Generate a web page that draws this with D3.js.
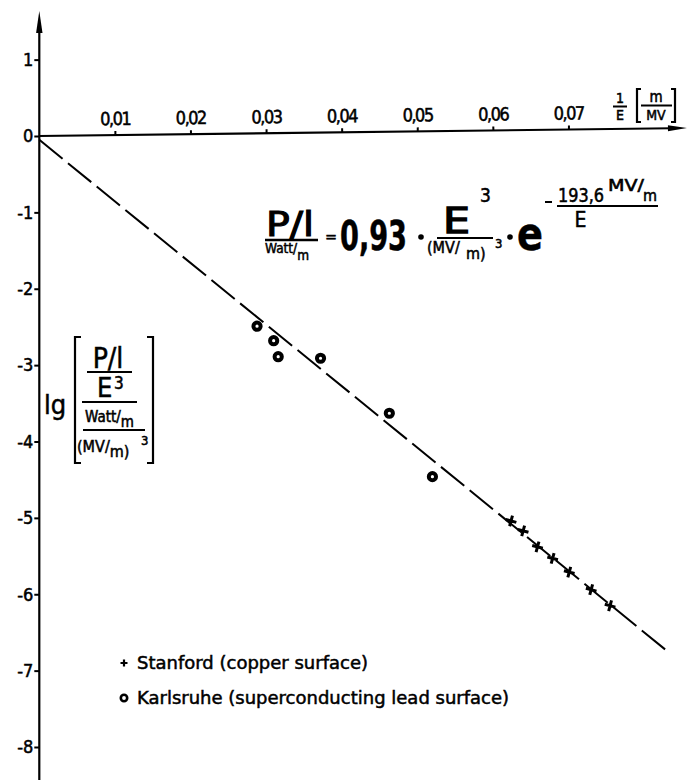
<!DOCTYPE html>
<meta charset="utf-8">
<style>
  body { margin: 0; background: #fff; }
  svg text {
    font-family: "DejaVu Sans Condensed", "Liberation Sans Narrow", Roboto, sans-serif;
    fill: #000;
    stroke: #000;
    stroke-width: 0.5px;
  }
  .axis line { stroke: #000; stroke-width: 2px; }
  .axis .domain { display: none; }
  .axis text { font-size: 18px; }
  .axis-x text { font-size: 18px; letter-spacing: -1.5px; }
  .spine { stroke: #000; stroke-width: 2.2px; fill: none; }
  .fit { fill: none; stroke: #000; stroke-width: 2px; stroke-dasharray: 30, 7; }
  .rule { stroke: #000; stroke-width: 2px; }
  .ring { fill: #fff; stroke: #000; stroke-width: 4px; }
  .plus { stroke: #000; stroke-width: 3px; }
  .legend text { font-family: "DejaVu Sans", sans-serif; font-size: 18px; }
</style>
<svg width="690" height="780"></svg>
<script src="https://d3js.org/d3.v7.min.js"></script>
<script>

  // values
  var xTicks = [0.01, 0.02, 0.03, 0.04, 0.05, 0.06, 0.07];
  var xTickLabels = ["0,01", "0,02", "0,03", "0,04", "0,05", "0,06", "0,07"];
  var yTicks = [1, 0, -1, -2, -3, -4, -5, -6, -7, -8];
  var yTickLabels = ["1", "0", "-1", "-2", "-3", "-4", "-5", "-6", "-7", "-8"];

  var stanfordX = [0.0624, 0.0640, 0.0659, 0.0679, 0.0701, 0.0730, 0.0755];
  var stanfordY = [-5.04, -5.17, -5.38, -5.53, -5.71, -5.94, -6.15];

  var karlsruheX = [0.0288, 0.0310, 0.0316, 0.0372, 0.0463, 0.0520];
  var karlsruheY = [-2.49, -2.68, -2.89, -2.91, -3.63, -4.46];

  var fitX = [0, 0.0830];
  var fitY = [-0.05, -6.74];

  var legendLabels = ["Stanford (copper surface)", "Karlsruhe (superconducting lead surface)"];

  var svg = d3.select("svg");

  var x = d3.scaleLinear().domain([0, 0.08]).range([39.3, 644.1]);
  var y = d3.scaleLinear().domain([0, -8]).range([136, 747]);

  // y axis
  svg.append("line").attr("class", "spine")
      .attr("x1", x(0)).attr("x2", x(0)).attr("y1", 28).attr("y2", 780);
  svg.append("path")
      .attr("d", "M" + x(0) + ",11 L" + (x(0) - 3.2) + ",33 L" + (x(0) + 3.2) + ",33 Z");

  svg.append("g")
      .attr("class", "axis axis-y")
      .attr("transform", "translate(" + x(0) + ",0)")
      .call(d3.axisLeft(y).tickValues(yTicks)
          .tickFormat(function(d, i) { return yTickLabels[i]; })
          .tickSize(5).tickPadding(1));

  // x axis (the scan is a little tilted)
  var gx = svg.append("g")
      .attr("transform", "translate(" + x(0) + "," + y(0) + ") rotate(-0.7) translate(" + (-x(0)) + ",0)");

  gx.append("line").attr("class", "spine")
      .attr("x1", x(0)).attr("x2", 672).attr("y1", 0).attr("y2", 0);
  gx.append("path").attr("d", "M687,0 L668,-3 L668,3 Z");

  gx.append("g")
      .attr("class", "axis axis-x")
      .call(d3.axisTop(x).tickValues(xTicks)
          .tickFormat(function(d, i) { return xTickLabels[i]; })
          .tickSize(4).tickPadding(6));

  // x axis unit 1/E [m/MV]
  var ux = svg.append("g");
  ux.append("text").attr("x", 620).attr("y", 103).attr("text-anchor", "middle").style("font-size", "14px").text("1");
  ux.append("line").attr("class", "rule").attr("x1", 613).attr("x2", 627).attr("y1", 106.5).attr("y2", 106.5);
  ux.append("text").attr("x", 620).attr("y", 120).attr("text-anchor", "middle").style("font-size", "14px").text("E");
  ux.append("path").attr("class", "spine").attr("d", "M641,89 L637,89 L637,122 L641,122");
  ux.append("path").attr("class", "spine").attr("d", "M671,89 L675,89 L675,122 L671,122");
  ux.append("text").attr("x", 656).attr("y", 102).attr("text-anchor", "middle").style("font-size", "15px").text("m");
  ux.append("line").attr("class", "rule").attr("x1", 641).attr("x2", 672).attr("y1", 105.5).attr("y2", 105.5);
  ux.append("text").attr("x", 656).attr("y", 120).attr("text-anchor", "middle").style("font-size", "14px").text("MV");

  // fitted line
  svg.append("path")
      .datum(d3.range(fitX.length))
      .attr("class", "fit")
      .attr("d", d3.line()
          .x(function(i) { return x(fitX[i]); })
          .y(function(i) { return y(fitY[i]); }));

  // Karlsruhe points
  svg.selectAll(".k")
      .data(d3.range(karlsruheX.length))
      .enter().append("circle")
      .attr("class", "ring")
      .attr("cx", function(i) { return x(karlsruheX[i]); })
      .attr("cy", function(i) { return y(karlsruheY[i]); })
      .attr("r", 3.6);

  // Stanford points
  var plus = "M-5.5,0 L5.5,0 M0,-5.5 L0,5.5";
  svg.selectAll(".s")
      .data(d3.range(stanfordX.length))
      .enter().append("path")
      .attr("class", "plus")
      .attr("d", plus)
      .attr("transform", function(i) {
        return "translate(" + x(stanfordX[i]) + "," + y(stanfordY[i]) + ") rotate(15)";
      });

  // formula
  var f = svg.append("g");
  f.append("text").attr("x", 266).attr("y", 236)
      .attr("textLength", 48).attr("lengthAdjust", "spacingAndGlyphs")
      .style("font-size", "33px").style("stroke-width", "1px").text("P/l");
  f.append("line").attr("class", "rule").style("stroke-width", "2.5px")
      .attr("x1", 265).attr("x2", 318).attr("y1", 240).attr("y2", 240);
  f.append("text").attr("x", 265).attr("y", 253).style("font-size", "13.5px")
      .text("Watt/").append("tspan").attr("dy", 7).text("m");
  f.append("text").attr("x", 331).attr("y", 242).attr("text-anchor", "middle")
      .style("font-size", "16px").text("=");
  f.append("text").attr("x", 340).attr("y", 250)
      .attr("textLength", 67).attr("lengthAdjust", "spacingAndGlyphs")
      .style("font-size", "41px").style("font-weight", "bold").text("0,93");
  f.append("circle").attr("cx", 421).attr("cy", 237).attr("r", 2.8);
  f.append("text").attr("x", 443).attr("y", 233)
      .attr("textLength", 27).attr("lengthAdjust", "spacingAndGlyphs")
      .style("font-size", "35px").style("stroke-width", "1.3px").text("E");
  f.append("text").attr("x", 480).attr("y", 202).style("font-size", "19px").text("3");
  f.append("line").attr("class", "rule")
      .attr("x1", 437).attr("x2", 493).attr("y1", 238).attr("y2", 238);
  f.append("text").attr("x", 427).attr("y", 253).style("font-size", "16px").text("(MV/");
  f.append("text").attr("x", 466).attr("y", 259).style("font-size", "16px").text("m)");
  f.append("text").attr("x", 495).attr("y", 248).style("font-size", "13px").text("3");
  f.append("circle").attr("cx", 510).attr("cy", 237).attr("r", 2.8);
  f.append("text").attr("x", 517).attr("y", 250)
      .attr("textLength", 26).attr("lengthAdjust", "spacingAndGlyphs")
      .style("font-size", "46px").style("font-weight", "bold").text("e");
  f.append("line").attr("class", "rule")
      .attr("x1", 545).attr("x2", 552).attr("y1", 202).attr("y2", 202);
  f.append("text").attr("x", 558).attr("y", 202)
      .attr("textLength", 46).attr("lengthAdjust", "spacingAndGlyphs")
      .style("font-size", "19px").text("193,6");
  f.append("text").attr("x", 608).attr("y", 191)
      .attr("textLength", 36).attr("lengthAdjust", "spacingAndGlyphs")
      .style("font-size", "15px").text("MV/");
  f.append("text").attr("x", 643).attr("y", 201).style("font-size", "16px").text("m");
  f.append("line").attr("class", "rule")
      .attr("x1", 557).attr("x2", 658).attr("y1", 206).attr("y2", 206);
  f.append("text").attr("x", 580.5).attr("y", 227).attr("text-anchor", "middle")
      .style("font-size", "21px").text("E");

  // y axis quantity
  var q = svg.append("g");
  q.append("text").attr("x", 44).attr("y", 414).style("font-size", "27px").text("lg");
  q.append("path").attr("class", "spine").attr("d", "M81,337 L75,337 L75,463 L81,463");
  q.append("path").attr("class", "spine").attr("d", "M147,337 L153,337 L153,463 L147,463");
  q.append("text").attr("x", 108).attr("y", 368).attr("text-anchor", "middle")
      .style("font-size", "28px").text("P/l");
  q.append("line").attr("class", "rule").attr("x1", 87).attr("x2", 132).attr("y1", 372).attr("y2", 372);
  q.append("text").attr("x", 97).attr("y", 397).style("font-size", "27px").text("E");
  q.append("text").attr("x", 114).attr("y", 389).style("font-size", "17px").text("3");
  q.append("line").attr("class", "rule").attr("x1", 82).attr("x2", 137).attr("y1", 402).attr("y2", 402);
  q.append("text").attr("x", 85).attr("y", 422).style("font-size", "15px")
      .text("Watt/").append("tspan").attr("dy", 5).text("m");
  q.append("line").attr("class", "rule").attr("x1", 83).attr("x2", 145).attr("y1", 430).attr("y2", 430);
  q.append("text").attr("x", 77).attr("y", 452).style("font-size", "16px")
      .text("(MV/").append("tspan").attr("dy", 5).text("m)");
  q.append("text").attr("x", 141).attr("y", 445).style("font-size", "13px").text("3");

  // legend
  var legendY = [663, 698];
  var lg = svg.append("g").attr("class", "legend");
  lg.append("path").attr("class", "plus").style("stroke-width", "2.2px")
      .attr("d", "M-3.5,0 L3.5,0 M0,-3.5 L0,3.5")
      .attr("transform", "translate(124," + legendY[0] + ")");
  lg.append("circle").attr("class", "ring").style("stroke-width", "2.6px")
      .attr("cx", 124).attr("cy", legendY[1]).attr("r", 3.2);
  lg.selectAll(".lt")
      .data(legendLabels)
      .enter().append("text")
      .attr("x", 137)
      .attr("y", function(d, i) { return legendY[i] + 5.5; })
      .text(function(d) { return d; });

</script>
